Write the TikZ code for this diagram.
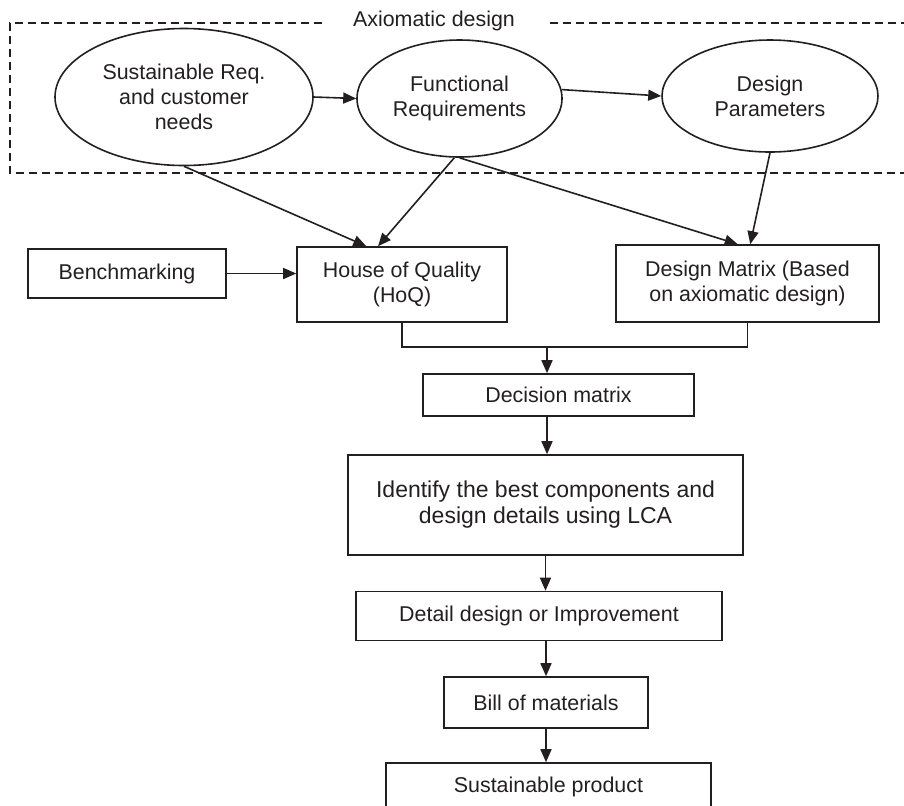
\documentclass[tikz,border=0pt]{standalone}
\usepackage{fontspec}
\setmainfont{Liberation Sans}
\usetikzlibrary{shapes.geometric,arrows.meta}
\definecolor{ink}{HTML}{231F20}
\tikzset{every node/.style={align=center, inner sep=0pt, font=\fontsize{10.7}{12.5}\selectfont},
  oval/.style={draw, ellipse},
  blk/.style={draw, rectangle},
  frame/.style={dash pattern=on 4pt off 2.5pt},
  flow/.style={-{Triangle[length=6.5pt,width=5.5pt]}}}

\begin{document}
\begin{tikzpicture}[x=0.5pt, y=-0.5pt, ink, line width=0.8pt]
  \useasboundingbox (0,0) rectangle (904,805);
  \clip (0,0) rectangle (904,805);
  \node[anchor=base] (axd) at (434,26) {Axiomatic design};
  \draw[frame] (322,23) -- (10,23) -- (10,173) -- (910,173);
  \draw[frame] (550,23) -- (910,23);
  \node[oval, minimum width=129pt, minimum height=68.5pt] (sreq) at (184, 97) {Sustainable Req.\\and customer\\needs};
  \node[oval, minimum width=102.5pt, minimum height=58.5pt] (freq) at (459.5, 98.5) {Functional\\Requirements};
  \node[oval, minimum width=108pt, minimum height=56pt] (dpar) at (770, 96) {Design\\Parameters};
  \node[blk, minimum width=99pt, minimum height=24.5pt] (bench) at (127, 273.5) {Benchmarking};
  \node[blk, minimum width=105pt, minimum height=37.5pt] (hoq) at (402, 284.5) {House of Quality\\(HoQ)};
  \node[blk, minimum width=131.5pt, minimum height=38.5pt] (dmat) at (747.5, 283.5) {Design Matrix (Based\\on axiomatic design)};
  \node[blk, minimum width=135.5pt, minimum height=21pt] (dec) at (558.5, 395) {Decision matrix};
  \node[blk, minimum width=197.5pt, minimum height=50pt, font=\fontsize{11.5}{13}\selectfont] (ident) at (545.5, 505) {Identify the best components and\\design details using LCA};
  \node[blk, minimum width=183pt, minimum height=24.5pt] (detail) at (539, 616) {Detail design or Improvement};
  \node[blk, minimum width=102pt, minimum height=25.5pt] (bom) at (546, 702.5) {Bill of materials};
  \node[blk, minimum width=162.5pt, minimum height=24pt] (prod) at (548.5, 787) {Sustainable product};
  \coordinate (join) at (547, 347);
  \draw[flow] (sreq.east) -- (freq.west);
  \draw[flow] (freq.5) -- (dpar.west);
  \draw[flow] (sreq.south) -- (hoq.133);
  \draw[flow] (freq.265) -- (hoq.122);
  \draw[flow] (freq.south) -- (dmat.104);
  \draw[flow] (dpar.south) -- (dmat.86);
  \draw[flow] (bench.east) -- (bench.east -| hoq.west);
  \draw (hoq.south) |- (join) -| (dmat.south);
  \draw[flow] (join) -- (join |- dec.north);
  \draw[flow] (join |- dec.south) -- (join |- ident.north);
  \draw[flow] (ident.south) -- (ident.south |- detail.north);
  \draw[flow] (bom.north |- detail.south) -- (bom.north);
  \draw[flow] (bom.south) -- (bom.south |- prod.north);
\end{tikzpicture}
\end{document}
